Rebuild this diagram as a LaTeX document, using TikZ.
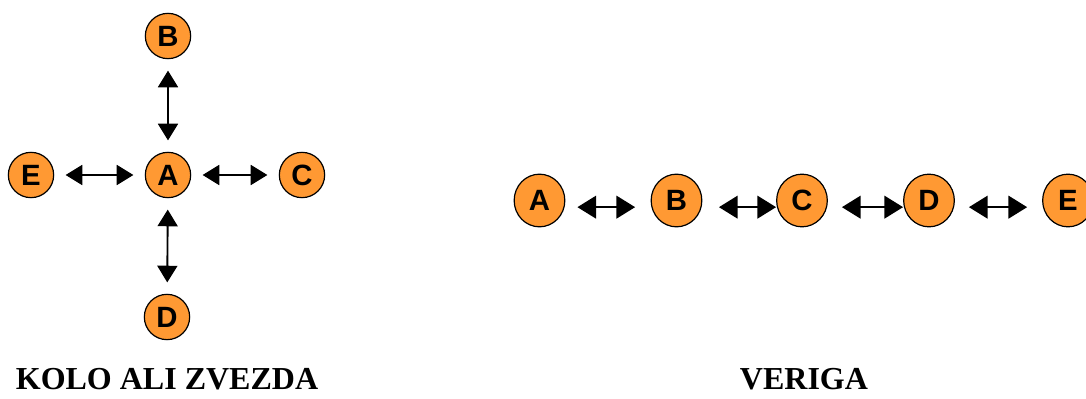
\documentclass[tikz,border=0pt]{standalone}
\usepackage{fontspec}
\setmainfont{Liberation Serif}
\setsansfont{Liberation Sans}
\usetikzlibrary{arrows.meta,shapes.geometric,positioning}
\definecolor{oranzna}{RGB}{255,153,51}

\begin{document}
\begin{tikzpicture}[x=0.75pt,y=-0.75pt,
    vozel/.style={circle,draw,fill=oranzna,line width=0.9pt,inner sep=0pt,
        minimum size=34pt,font=\sffamily\bfseries\fontsize{22}{22}\selectfont},
    vozelv/.style={vozel,ellipse,minimum width=38pt,minimum height=39.5pt},
    puscica/.style={{Triangle[length=12.5pt,width=15pt]}-{Triangle[length=12.5pt,width=15pt]},
        line width=1.4pt,shorten <=8.5pt,shorten >=8.5pt},
    puscicav/.style={{Triangle[length=14pt,width=17pt]}-{Triangle[length=14pt,width=17pt]},
        line width=1.4pt},
    napis/.style={anchor=base,font=\bfseries\fontsize{24}{24}\selectfont}]
\useasboundingbox (0,0) rectangle (1086,399);

% kolo ali zvezda
\node[vozel] (kA) at (168,175) {A};
\node[vozel] (kB) at (168,36) {B};
\node[vozel] (kC) at (302,175) {C};
\node[vozel] (kD) at (167,317) {D};
\node[vozel] (kE) at (31,175) {E};
\foreach \v in {kB,kC,kD,kE}
    \draw[puscica] (kA) -- (\v);
\node[napis] (kolo) at (167,389) {KOLO ALI ZVEZDA};

% veriga
\foreach \ime/\x in {A/539.5,B/676.5,C/802,D/929,E/1068}
    \node[vozelv] (v\ime) at (\x,200.5) {\ime};
\foreach \a/\b/\za/\zb in {A/B/9/11.6,B/C/12.4/0,C/D/10.5/0,D/E/10.5/11.2}
    \draw[puscicav,shorten <=\za pt,shorten >=\zb pt]
        ([yshift=-5pt]v\a.east) -- ([yshift=-5pt]v\b.west);
\node[napis] (veriga) at (804,389) {VERIGA};
\end{tikzpicture}
\end{document}
